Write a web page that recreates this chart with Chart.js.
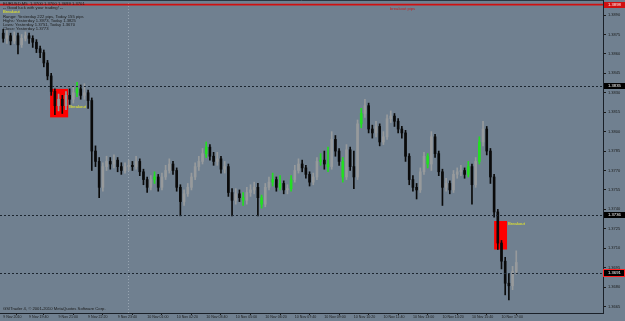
<!DOCTYPE html>
<html><head><meta charset="utf-8">
<script src="https://cdn.jsdelivr.net/npm/chart.js@4/dist/chart.umd.min.js"></script>
<style>html,body{margin:0;padding:0;background:#708090;overflow:hidden}canvas{display:block}</style>
</head><body><canvas id="c" width="625" height="321"></canvas>
<script>
// EURUSD candles (one candle per 10 minutes, first at 9 Nov 18:30)
const opens = [1.3876,1.3872,1.3874,1.3870,1.3874,1.3867,1.3872,1.3874,1.3872,1.3869,
1.3864,1.3861,1.3853,1.3843,1.3831,1.3820,1.3825,1.3820,1.3828,1.3825,
1.3830,1.3833,1.3828,1.3830,1.3824,1.3785,1.3777,1.3757,1.3773,1.3777,
1.3775,1.3778,1.3773,1.3770,1.3773,1.3774,1.3773,1.3777,1.3769,1.3763,
1.3757,1.3763,1.3765,1.3757,1.3765,1.3770,1.3775,1.3770,1.3757,1.3746,
1.3752,1.3757,1.3765,1.3773,1.3777,1.3783,1.3788,1.3781,1.3777,1.3779,
1.3771,1.3773,1.3753,1.3747,1.3752,1.3749,1.3747,1.3753,1.3755,1.3757,
1.3749,1.3744,1.3757,1.3761,1.3763,1.3757,1.3760,1.3755,1.3756,1.3763,
1.3770,1.3775,1.3772,1.3767,1.3761,1.3765,1.3777,1.3778,1.3775,1.3773,
1.3794,1.3785,1.3777,1.3765,1.3786,1.3773,1.3765,1.3806,1.3814,1.3820,
1.3802,1.3799,1.3804,1.3792,1.3796,1.3810,1.3812,1.3808,1.3802,1.3799,
1.3781,1.3763,1.3757,1.3755,1.3769,1.3781,1.3775,1.3796,1.3783,1.3769,
1.3757,1.3760,1.3755,1.3767,1.3769,1.3770,1.3767,1.3773,1.3759,1.3777,
1.3792,1.3802,1.3785,1.3765,1.3738,1.3714,1.3700,1.3683,1.3681,1.3692];
const highs = [1.3879,1.3878,1.3876,1.3877,1.3876,1.3875,1.3877,1.3876,1.3874,1.3871,
1.3866,1.3863,1.3855,1.3845,1.3833,1.3829,1.3828,1.3831,1.3833,1.3835,
1.3838,1.3836,1.3837,1.3832,1.3826,1.3789,1.3780,1.3776,1.3781,1.3780,
1.3782,1.3780,1.3776,1.3776,1.3778,1.3777,1.3781,1.3779,1.3771,1.3765,
1.3766,1.3769,1.3767,1.3768,1.3774,1.3779,1.3777,1.3772,1.3759,1.3755,
1.3760,1.3768,1.3776,1.3781,1.3787,1.3792,1.3790,1.3784,1.3784,1.3781,
1.3777,1.3775,1.3756,1.3756,1.3755,1.3753,1.3757,1.3759,1.3761,1.3760,
1.3751,1.3760,1.3765,1.3768,1.3765,1.3766,1.3762,1.3759,1.3766,1.3774,
1.3779,1.3778,1.3774,1.3769,1.3768,1.3780,1.3783,1.3785,1.3788,1.3800,
1.3797,1.3787,1.3780,1.3790,1.3788,1.3785,1.3809,1.3818,1.3825,1.3822,
1.3805,1.3808,1.3806,1.3800,1.3813,1.3816,1.3814,1.3810,1.3804,1.3801,
1.3783,1.3766,1.3760,1.3772,1.3784,1.3783,1.3800,1.3798,1.3785,1.3771,
1.3764,1.3762,1.3770,1.3772,1.3774,1.3772,1.3777,1.3775,1.3780,1.3796,
1.3808,1.3804,1.3787,1.3767,1.3740,1.3716,1.3703,1.3690,1.3696,1.3708];
const lows = [1.3869,1.3868,1.3867,1.3868,1.3860,1.3865,1.3870,1.3868,1.3865,1.3861,
1.3857,1.3850,1.3840,1.3828,1.3813,1.3816,1.3814,1.3817,1.3821,1.3822,
1.3827,1.3825,1.3825,1.3818,1.3770,1.3773,1.3749,1.3754,1.3770,1.3771,
1.3772,1.3769,1.3767,1.3768,1.3770,1.3770,1.3771,1.3766,1.3759,1.3753,
1.3755,1.3760,1.3754,1.3755,1.3763,1.3768,1.3767,1.3754,1.3735,1.3743,
1.3750,1.3755,1.3763,1.3770,1.3775,1.3780,1.3778,1.3774,1.3774,1.3768,
1.3768,1.3750,1.3735,1.3744,1.3746,1.3743,1.3744,1.3750,1.3752,1.3735,
1.3741,1.3742,1.3755,1.3758,1.3754,1.3755,1.3752,1.3752,1.3754,1.3761,
1.3768,1.3769,1.3764,1.3758,1.3759,1.3763,1.3774,1.3771,1.3769,1.3771,
1.3781,1.3774,1.3761,1.3763,1.3770,1.3756,1.3763,1.3803,1.3811,1.3799,
1.3795,1.3796,1.3789,1.3790,1.3794,1.3807,1.3804,1.3799,1.3795,1.3777,
1.3759,1.3754,1.3748,1.3753,1.3767,1.3772,1.3770,1.3780,1.3766,1.3743,
1.3754,1.3752,1.3753,1.3764,1.3766,1.3764,1.3765,1.3744,1.3757,1.3775,
1.3789,1.3782,1.3760,1.3734,1.3709,1.3694,1.3674,1.3670,1.3678,1.3690];
const closes = [1.3872,1.3874,1.3870,1.3874,1.3867,1.3872,1.3874,1.3872,1.3869,1.3864,
1.3861,1.3853,1.3843,1.3831,1.3820,1.3825,1.3820,1.3828,1.3825,1.3830,
1.3833,1.3828,1.3830,1.3824,1.3785,1.3777,1.3757,1.3773,1.3777,1.3775,
1.3778,1.3773,1.3770,1.3773,1.3774,1.3773,1.3777,1.3769,1.3763,1.3757,
1.3763,1.3765,1.3757,1.3765,1.3770,1.3775,1.3770,1.3757,1.3746,1.3752,
1.3757,1.3765,1.3773,1.3777,1.3783,1.3788,1.3781,1.3777,1.3779,1.3771,
1.3773,1.3753,1.3747,1.3752,1.3749,1.3747,1.3753,1.3755,1.3757,1.3749,
1.3744,1.3757,1.3761,1.3763,1.3757,1.3760,1.3755,1.3756,1.3763,1.3770,
1.3775,1.3772,1.3767,1.3761,1.3765,1.3777,1.3778,1.3775,1.3773,1.3794,
1.3785,1.3777,1.3765,1.3786,1.3773,1.3765,1.3806,1.3814,1.3820,1.3802,
1.3799,1.3804,1.3792,1.3796,1.3810,1.3812,1.3808,1.3802,1.3799,1.3781,
1.3763,1.3757,1.3755,1.3769,1.3781,1.3775,1.3796,1.3783,1.3769,1.3757,
1.3760,1.3755,1.3767,1.3769,1.3770,1.3767,1.3773,1.3759,1.3777,1.3792,
1.3802,1.3785,1.3765,1.3738,1.3714,1.3700,1.3683,1.3681,1.3692,1.3699];
const greenBars = [20,41,55,65,70,73,75,78,86,88,92,97,115,126,129];

const xTickIdx = [0,7,15,23,31,39,47,55,63,71,79,87,95,103,111,119,127,135];
const xTickLabels = ['9 Nov 2010','9 Nov 19:40','9 Nov 21:00','9 Nov 22:20','9 Nov 23:40',
 '10 Nov 01:00','10 Nov 02:20','10 Nov 03:40','10 Nov 05:00','10 Nov 06:20','10 Nov 07:40',
 '10 Nov 09:00','10 Nov 10:20','10 Nov 11:40','10 Nov 13:00','10 Nov 14:20','10 Nov 15:40','10 Nov 17:00'];
const yTicks = [1.3890,1.3875,1.3860,1.3845,1.3830,1.3815,1.3800,1.3785,1.3770,1.3755,1.3740,1.3725,1.3710,1.3695,1.3680,1.3665];

const redLevel = 1.3898;
const dottedLevels = [1.3835,1.3736,1.3691];
const daySeparator = 33.7;
const boxStart = [12.7,133.0], boxEnd = [17.6,136.5], boxTop = [1.3833,1.3731], boxBottom = [1.3811,1.3709];

const infoLines = ['EURUSD,M5  1.3700 1.3700 1.3699 1.3701','-- Good luck with your trading! --','Breakout',
 'Range: Yesterday 222 pips, Today 155 pips','Highs: Yesterday 1.3973, Today 1.3825',
 'Lows: Yesterday 1.3751, Today 1.3670','Close: Yesterday 1.3773'];

const BG = '#708090', BULL = '#979a9c', BEAR = '#0a0a0a', GREEN = '#22dd22';
const colors = opens.map((o,i)=> greenBars.includes(i) ? GREEN : (closes[i] >= o ? BULL : BEAR));
const FONT = '"Liberation Sans", Arial, sans-serif';

const overlay = {
  id: 'overlay',
  beforeDraw(chart){
    const c = chart.ctx; c.save(); c.fillStyle = BG; c.fillRect(0,0,chart.width,chart.height); c.restore();
  },
  beforeDatasetsDraw(chart){
    const {ctx, chartArea:a, scales:{x,y}} = chart;
    ctx.save();
    ctx.beginPath(); ctx.rect(a.left,a.top,a.right-a.left,a.bottom-a.top); ctx.clip();
    ctx.fillStyle = '#ff0000';
    boxStart.forEach((s,k)=>{
      const x0 = x.getPixelForValue(s), x1 = x.getPixelForValue(boxEnd[k]);
      const y0 = y.getPixelForValue(boxTop[k]), y1 = y.getPixelForValue(boxBottom[k]);
      ctx.fillRect(x0,y0,x1-x0,y1-y0);
    });
    const sx = Math.round(x.getPixelForValue(daySeparator))+0.5;
    ctx.strokeStyle = 'rgba(190,200,210,0.5)'; ctx.lineWidth = 1; ctx.setLineDash([1,2]);
    ctx.beginPath(); ctx.moveTo(sx,a.top); ctx.lineTo(sx,a.bottom); ctx.stroke();
    ctx.restore();
  },
  afterDatasetsDraw(chart){
    const {ctx, chartArea:a, scales:{y}} = chart;
    ctx.save();
    ctx.strokeStyle = '#1c2630'; ctx.lineWidth = 1; ctx.setLineDash([2,2]);
    dottedLevels.forEach(v=>{
      const py = Math.round(y.getPixelForValue(v))+0.5;
      ctx.beginPath(); ctx.moveTo(a.left,py); ctx.lineTo(a.right,py); ctx.stroke();
    });
    ctx.setLineDash([]);
    ctx.strokeStyle = '#d01010'; ctx.lineWidth = 1.6;
    const ry = y.getPixelForValue(redLevel);
    ctx.beginPath(); ctx.moveTo(a.left,ry); ctx.lineTo(a.right,ry); ctx.stroke();
    ctx.strokeStyle = '#2a3540'; ctx.lineWidth = 1;
    ctx.beginPath(); ctx.moveTo(a.left,0.5); ctx.lineTo(a.right,0.5); ctx.stroke();
    ctx.restore();
  },
  afterDraw(chart){
    const {ctx, chartArea:a, scales:{x,y}} = chart;
    ctx.save();
    ctx.textBaseline = 'middle'; ctx.textAlign = 'left';
    ctx.font = '4.2px ' + FONT;
    infoLines.forEach((t,i)=>{
      ctx.fillStyle = i === 2 ? '#f0f020' : '#1a1a1a';
      ctx.fillText(t, 3, 3.5 + i*4.3);
    });
    ctx.fillStyle = '#c02020'; ctx.fillText('breakout pips', 390, 8.5);
    ctx.fillStyle = '#f0f020';
    boxEnd.forEach((e,k)=>{
      ctx.fillText('Breakout', x.getPixelForValue(e)+1, y.getPixelForValue(boxTop[k]) + (k===0?18:3));
    });
    ctx.fillStyle = '#1a1a1a';
    ctx.fillText('GSITrader 4, \u00a9 2001-2010 MetaQuotes Software Corp.', 3, 309);
    const boxLabel = (v, fill, stroke) => {
      const py = Math.round(y.getPixelForValue(v));
      ctx.fillStyle = fill; ctx.fillRect(a.right+1, py-3, 21, 6);
      if (stroke){ ctx.strokeStyle = stroke; ctx.lineWidth = 1; ctx.strokeRect(a.right+0.5, py-3.5, 21, 7); }
      ctx.fillStyle = '#ffffff'; ctx.font = '4.2px ' + FONT; ctx.fillText(v.toFixed(4), a.right+5, py+0.3);
    };
    boxLabel(redLevel, '#d01010');
    boxLabel(dottedLevels[0], '#000000');
    boxLabel(dottedLevels[1], '#000000');
    boxLabel(dottedLevels[2], '#000000', '#ff2020');
    ctx.restore();
  }
};

const noPad = s => { s.paddingTop = 0; s.paddingBottom = 0; s.paddingLeft = 0; s.paddingRight = 0; };

new Chart(document.getElementById('c'), {
  type: 'bar',
  data: {
    datasets: [
      { label:'wick', data: opens.map((o,i)=>({x:i, y:[lows[i], highs[i]]})),
        backgroundColor: colors, barThickness: 1, grouped: false, order: 2 },
      { label:'body', data: opens.map((o,i)=>({x:i, y:[o, closes[i]]})),
        backgroundColor: colors, barThickness: 2, minBarLength: 1, grouped: false, order: 1 }
    ]
  },
  options: {
    responsive: false, animation: false, devicePixelRatio: 1,
    layout: { padding: 0 },
    plugins: { legend: { display:false }, tooltip: { enabled:false } },
    scales: {
      x: {
        type: 'linear', position: 'bottom', offset: false, min: -0.87, max: 162.5,
        afterBuildTicks: s => { s.ticks = xTickIdx.map(v=>({value:v})); },
        afterFit: s => { s.height = 8; noPad(s); },
        ticks: { autoSkip:false, maxRotation:0, align:'start', padding:0, color:'#1a1a1a',
          font:{ size:3.6, family: FONT },
          callback: v => xTickLabels[xTickIdx.indexOf(v)] },
        grid: { drawOnChartArea:false, tickLength:2, color:'#1a1a1a' },
        border: { color:'#1a2028', width:1 }
      },
      y: {
        type: 'linear', position: 'right', min: 1.3660, max: 1.39016,
        afterBuildTicks: s => { s.ticks = yTicks.map(v=>({value:v})); },
        afterFit: s => { s.width = 22; noPad(s); },
        ticks: { padding:2, color:'#1a1a1a', font:{ size:4, family: FONT }, callback: v => v.toFixed(4) },
        grid: { drawOnChartArea:false, tickLength:3, color:'#1a1a1a' },
        border: { color:'#1a2028', width:1 }
      }
    }
  },
  plugins: [overlay]
});
</script>
</body></html>
